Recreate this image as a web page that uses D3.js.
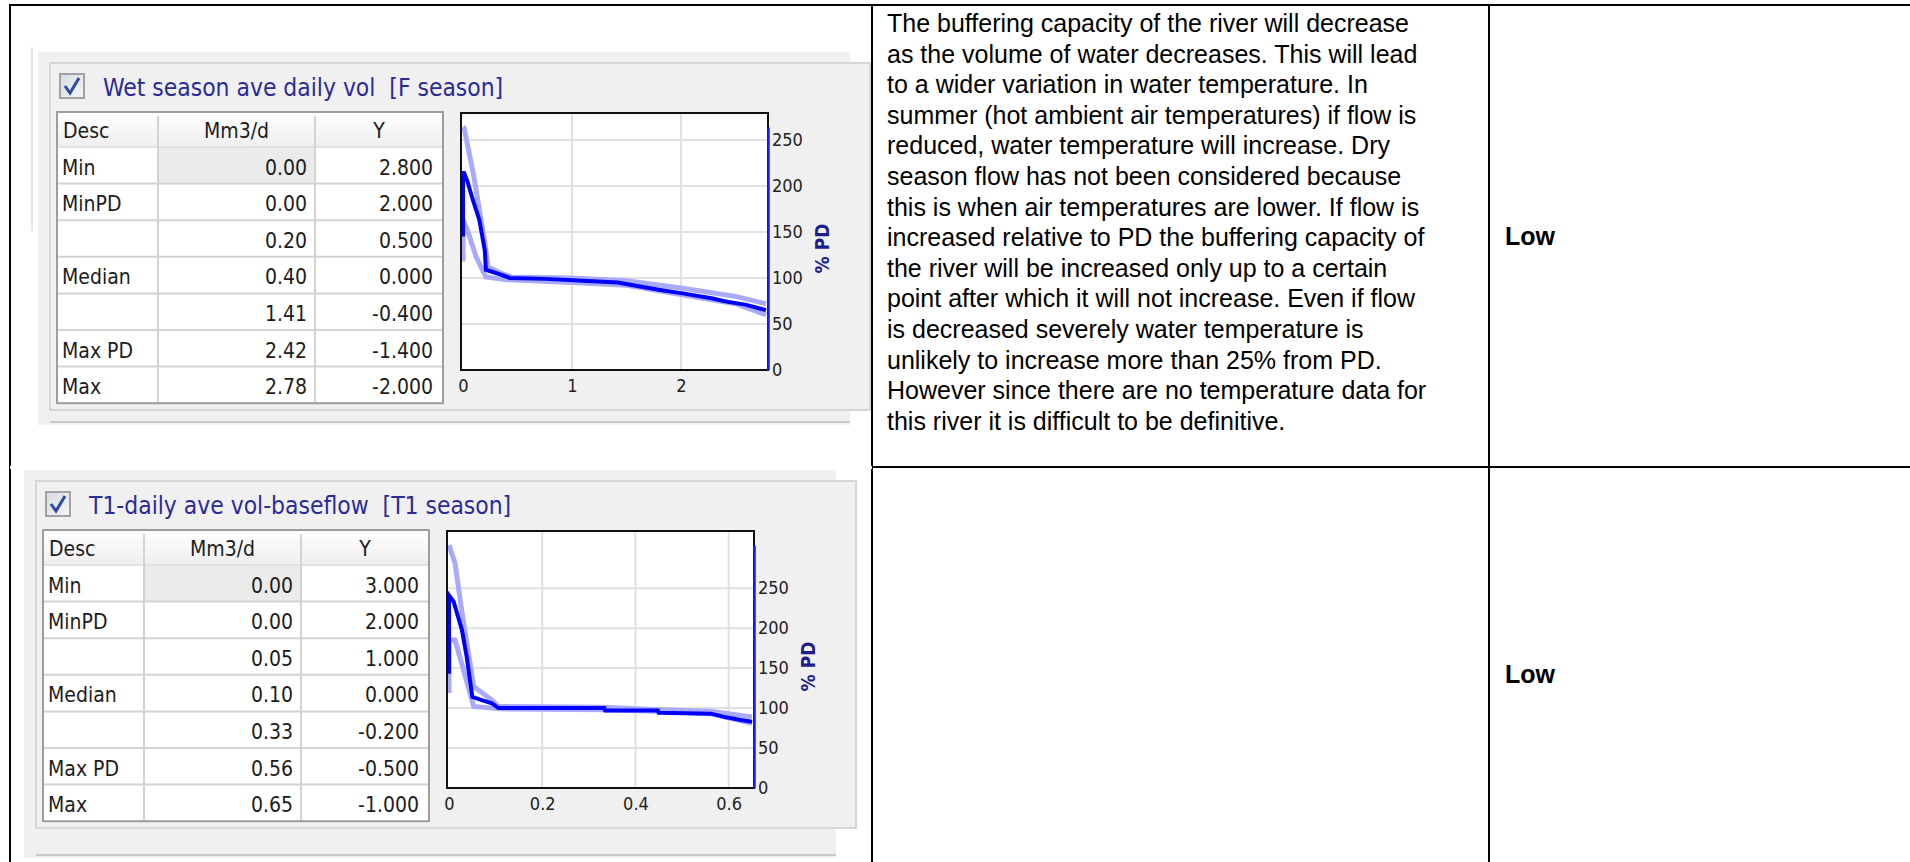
<!DOCTYPE html>
<html>
<head>
<meta charset="utf-8">
<script src="https://cdn.jsdelivr.net/npm/d3@7"></script>
<style>
  body { margin: 0; background: #fff; }
  svg { display: block; }
  .ui { font-family: "DejaVu Sans Condensed", "DejaVu Sans", sans-serif; font-stretch: condensed; }
  .doc { font-family: "Liberation Sans", Arial, sans-serif; }
</style>
</head>
<body>
<svg id="page" width="1910" height="862"></svg>
<script>
// table rows shared by both panels
var descLabels = ["Min", "MinPD", "", "Median", "", "Max PD", "Max"];
var headLabels = ["Desc", "Mm3/d", "Y"];

// panel 1 : wet season
var wetTitle = "Wet season ave daily vol  [F season]";
var wetFlow = ["0.00", "0.00", "0.20", "0.40", "1.41", "2.42", "2.78"];
var wetY = ["2.800", "2.000", "0.500", "0.000", "-0.400", "-1.400", "-2.000"];
var wetXTicks = [0, 1, 2];
var wetMainX = [0, 0, 0.01, 0.04, 0.09, 0.15, 0.20, 0.21, 0.26, 0.34, 0.43, 0.75, 1.10, 1.42, 1.56, 1.81, 2.03, 2.28, 2.43, 2.59, 2.78];
var wetMainY = [145, 214, 214, 205, 185, 163, 130, 109, 107, 104, 100, 99, 97, 95, 92, 87, 83, 78, 74, 71, 65];
var wetUpX = [0, 0.01, 0.10, 0.20, 0.23, 0.35, 0.45, 1.0, 1.5, 2.0, 2.5, 2.78];
var wetUpY = [264, 263, 210, 138, 112, 105, 101, 100, 97, 89, 80, 72];
var wetLowX = [0, 0, 0.04, 0.12, 0.21, 0.4, 1.0, 1.5, 2.0, 2.5, 2.78];
var wetLowY = [118, 163, 152, 123, 101, 98, 95, 92, 82, 72, 60];

// panel 2 : T1 baseflow
var t1Title = "T1-daily ave vol-baseflow  [T1 season]";
var t1Flow = ["0.00", "0.00", "0.05", "0.10", "0.33", "0.56", "0.65"];
var t1Y = ["3.000", "2.000", "1.000", "0.000", "-0.200", "-0.500", "-1.000"];
var t1XTicks = [0, 0.2, 0.4, 0.6];
var t1MainX = [0, 0, 0.01, 0.028, 0.038, 0.05, 0.07, 0.092, 0.106, 0.333, 0.335, 0.448, 0.45, 0.562, 0.59, 0.626, 0.65];
var t1MainY = [143, 241, 233, 197, 164, 114, 110, 106, 100, 100, 97, 97, 94, 93, 89, 85, 83];
var t1UpX = [0, 0.013, 0.028, 0.053, 0.092, 0.106, 0.33, 0.45, 0.56, 0.65];
var t1UpY = [304, 281, 219, 127, 110, 102, 101, 98, 96, 89];
var t1LowX = [0, 0, 0.013, 0.053, 0.11, 0.33, 0.45, 0.56, 0.65];
var t1LowY = [119, 185, 185, 102, 99, 98, 96, 93, 81];

var pdTicks = [0, 50, 100, 150, 200, 250];

// document text
var noteLines = [
  "The buffering capacity of the river will decrease",
  "as the volume of water decreases. This will lead",
  "to a wider variation in water temperature. In",
  "summer (hot ambient air temperatures) if flow is",
  "reduced, water temperature will increase. Dry",
  "season flow has not been considered because",
  "this is when air temperatures are lower. If flow is",
  "increased relative to PD the buffering capacity of",
  "the river will be increased only up to a certain",
  "point after which it will not increase. Even if flow",
  "is decreased severely water temperature is",
  "unlikely to increase more than 25% from PD.",
  "However since there are no temperature data for",
  "this river it is difficult to be definitive."
];
var ratings = ["Low", "Low"];

var svg = d3.select("#page");

var defs = svg.append("defs");
var hg = defs.append("linearGradient").attr("id", "headGrad").attr("x1", 0).attr("y1", 0).attr("x2", 0).attr("y2", 1);
hg.append("stop").attr("offset", "0%").attr("stop-color", "#ffffff");
hg.append("stop").attr("offset", "100%").attr("stop-color", "#eeeeee");
var cg = defs.append("linearGradient").attr("id", "chkGrad").attr("x1", 0).attr("y1", 0).attr("x2", 1).attr("y2", 1);
cg.append("stop").attr("offset", "0%").attr("stop-color", "#d7dbe2");
cg.append("stop").attr("offset", "100%").attr("stop-color", "#f4f5f7");

function zip(xs, ys) {
  return xs.map(function (d, i) { return { x: d, v: ys[i] }; });
}

// one software panel: grey box, title, table and chart
function drawPanel(p) {
  var g = svg.append("g").attr("transform", "translate(" + p.dx + "," + p.dy + ")");

  // grey background and group box
  g.append("rect").attr("x", 38).attr("y", 52).attr("width", 812).attr("height", p.bgH).attr("fill", "#f0f0f0");
  g.append("rect").attr("x", 50).attr("y", 63).attr("width", 820).attr("height", 347)
    .attr("fill", "#f0f0f0").attr("stroke", "#d6d6d6").attr("stroke-width", 2);
  g.append("line").attr("x1", 50).attr("x2", 850).attr("y1", p.bgH + 52 - 3).attr("y2", p.bgH + 52 - 3)
    .attr("stroke", "#c9c9c9").attr("stroke-width", 2);

  // checkbox
  g.append("rect").attr("x", 60).attr("y", 74).attr("width", 24).attr("height", 24)
    .attr("fill", "url(#chkGrad)").attr("stroke", "#a2a2a2").attr("stroke-width", 2);
  g.append("path").attr("d", "M65,86 L70,93 L79,78").attr("fill", "none")
    .attr("stroke", "#2f4d9c").attr("stroke-width", 3);

  // title
  g.append("text").attr("class", "ui").attr("x", 103).attr("y", 96)
    .style("font-size", "24.4px").attr("fill", "#2b2b98").attr("xml:space", "preserve")
    .text(p.title);

  // table
  var tl = 57, tt = 112, colX = [57, 158, 315, 443], headH = 35, rowH = 36.6;
  var tb = tt + headH + rowH * descLabels.length;
  g.append("rect").attr("x", tl).attr("y", tt).attr("width", colX[3] - tl).attr("height", tb - tt).attr("fill", "#fff");
  g.append("rect").attr("x", tl).attr("y", tt).attr("width", colX[3] - tl).attr("height", headH).attr("fill", "url(#headGrad)");
  g.append("rect").attr("x", colX[1]).attr("y", tt + headH).attr("width", colX[2] - colX[1]).attr("height", rowH).attr("fill", "#ebebeb");

  // grid lines of the table
  d3.range(1, descLabels.length + 1).forEach(function (i) {
    g.append("line").attr("x1", tl).attr("x2", colX[3])
      .attr("y1", tt + headH + rowH * (i - 1)).attr("y2", tt + headH + rowH * (i - 1))
      .attr("stroke", i === 1 ? "#e2e2e2" : "#d3d3d3").attr("stroke-width", 2);
  });
  [colX[1], colX[2]].forEach(function (cx) {
    g.append("line").attr("x1", cx).attr("x2", cx).attr("y1", tt + 4).attr("y2", tb)
      .attr("stroke", "#d3d3d3").attr("stroke-width", 2);
  });
  g.append("rect").attr("x", tl).attr("y", tt).attr("width", colX[3] - tl).attr("height", tb - tt)
    .attr("fill", "none").attr("stroke", "#9d9d9d").attr("stroke-width", 2);

  // header labels
  var tg = g.append("g").attr("class", "ui").style("font-size", "21px").attr("fill", "#1c1c1c");
  tg.append("text").attr("x", tl + 6).attr("y", tt + headH - 9).text(headLabels[0]);
  tg.append("text").attr("x", (colX[1] + colX[2]) / 2).attr("y", tt + headH - 9).attr("text-anchor", "middle").text(headLabels[1]);
  tg.append("text").attr("x", (colX[2] + colX[3]) / 2).attr("y", tt + headH - 9).attr("text-anchor", "middle").text(headLabels[2]);

  // row labels and values
  tg.selectAll(".desc").data(descLabels).enter().append("text")
    .attr("x", tl + 5).attr("y", function (d, i) { return tt + headH + rowH * (i + 1) - 9; })
    .text(function (d) { return d; });
  tg.selectAll(".flow").data(p.flow).enter().append("text")
    .attr("x", colX[2] - 8).attr("text-anchor", "end")
    .attr("y", function (d, i) { return tt + headH + rowH * (i + 1) - 9; })
    .text(function (d) { return d; });
  tg.selectAll(".yval").data(p.yv).enter().append("text")
    .attr("x", colX[3] - 10).attr("text-anchor", "end")
    .attr("y", function (d, i) { return tt + headH + rowH * (i + 1) - 9; })
    .text(function (d) { return d; });

  // chart frame
  var fx = 461, fy = 113, fw = 307, fh = 257;
  var up = zip(p.upX, p.upY), low = zip(p.lowX, p.lowY), main = zip(p.mainX, p.mainY);

  var x = d3.scaleLinear()
    .domain([0, d3.max(p.mainX)])
    .range([fx + 2, fx + fw - 2]);
  var y = d3.scaleLinear()
    .domain([0, d3.max(p.upY)])
    .range([fy + fh, fy + 14]);

  g.append("rect").attr("x", fx).attr("y", fy).attr("width", fw).attr("height", fh).attr("fill", "#fff");

  // gridlines
  g.append("g").selectAll("line").data(p.xTicks.slice(1)).enter().append("line")
    .attr("x1", function (d) { return x(d); }).attr("x2", function (d) { return x(d); })
    .attr("y1", fy).attr("y2", fy + fh)
    .attr("stroke", "#e1e1e1").attr("stroke-width", 2);
  g.append("g").selectAll("line").data(pdTicks.slice(1)).enter().append("line")
    .attr("y1", function (d) { return y(d); }).attr("y2", function (d) { return y(d); })
    .attr("x1", fx).attr("x2", fx + fw)
    .attr("stroke", "#e1e1e1").attr("stroke-width", 2);

  // range lines then the PD line
  var line = d3.line().x(function (d) { return x(d.x); }).y(function (d) { return y(d.v); });
  [up, low].forEach(function (s) {
    g.append("path").datum(s).attr("d", line).attr("fill", "none")
      .attr("stroke", "#aaaafc").attr("stroke-width", 5);
  });
  g.append("path").datum(main).attr("d", line).attr("fill", "none")
    .attr("stroke", "#0000ff").attr("stroke-width", 4);

  g.append("rect").attr("x", fx).attr("y", fy).attr("width", fw).attr("height", fh)
    .attr("fill", "none").attr("stroke", "#111").attr("stroke-width", 2);

  // X axis
  var xa = g.append("g").attr("class", "ui")
    .attr("transform", "translate(0," + (fy + fh) + ")")
    .call(d3.axisBottom(x).tickValues(p.xTicks).tickSize(0).tickPadding(9).tickFormat(d3.format("")));
  xa.select(".domain").remove();
  xa.selectAll("text").style("font-size", "18px").style("font-family", null).attr("fill", "#222");

  // Y axis on the right, blue
  var ya = g.append("g").attr("class", "ui")
    .attr("transform", "translate(" + (fx + fw) + ",0)")
    .call(d3.axisRight(y).tickValues(pdTicks).tickSize(0).tickPadding(4));
  ya.select(".domain").attr("stroke", "#1a1aff").attr("stroke-width", 2.5);
  ya.selectAll("text").style("font-size", "18px").style("font-family", null).attr("fill", "#222");

  // Y axis label
  g.append("text").attr("class", "ui")
    .attr("transform", "translate(" + (fx + fw + 61) + "," + ((y(0) + y(d3.max(p.upY))) / 2) + ") rotate(-90)")
    .attr("text-anchor", "middle")
    .style("font-size", "19px").style("font-weight", "bold").attr("fill", "#1d1d8e")
    .text("% PD");
}

// outer white document table
var doc = svg.append("g");

// light line at the left of the first screenshot
doc.append("line").attr("x1", 32).attr("x2", 32).attr("y1", 47).attr("y2", 231)
  .attr("stroke", "#e4e6ea").attr("stroke-width", 2);

drawPanel({ dx: 0, dy: 0, bgH: 373, title: wetTitle, flow: wetFlow, yv: wetY, xTicks: wetXTicks,
  mainX: wetMainX, mainY: wetMainY, upX: wetUpX, upY: wetUpY, lowX: wetLowX, lowY: wetLowY });
drawPanel({ dx: -14, dy: 418, bgH: 388, title: t1Title, flow: t1Flow, yv: t1Y, xTicks: t1XTicks,
  mainX: t1MainX, mainY: t1MainY, upX: t1UpX, upY: t1UpY, lowX: t1LowX, lowY: t1LowY });

// white strip above panel 2 under the row line
svg.append("rect").attr("x", 10).attr("y", 466).attr("width", 862).attr("height", 3).attr("fill", "#fff");

// note text
doc.append("g").attr("class", "doc").style("font-size", "25px").attr("fill", "#000")
  .selectAll("text").data(noteLines).enter().append("text")
  .attr("x", 887).attr("y", function (d, i) { return 32 + i * 30.6; })
  .text(function (d) { return d; });

// rating column
doc.append("g").attr("class", "doc").style("font-size", "25px").style("font-weight", "bold")
  .selectAll("text").data(ratings).enter().append("text")
  .attr("x", 1505).attr("y", function (d, i) { return i === 0 ? 245 : 683; })
  .text(function (d) { return d; });

// borders of the document table
var bw = 2;
doc.append("line").attr("x1", 10).attr("x2", 1910).attr("y1", 5).attr("y2", 5).attr("stroke", "#000").attr("stroke-width", bw);
doc.append("line").attr("x1", 10).attr("x2", 1910).attr("y1", 467).attr("y2", 467).attr("stroke", "#000").attr("stroke-width", bw);
[10, 872, 1489].forEach(function (cx) {
  doc.append("line").attr("x1", cx).attr("x2", cx).attr("y1", 4).attr("y2", 862).attr("stroke", "#000").attr("stroke-width", bw);
});
</script>
</body>
</html>
